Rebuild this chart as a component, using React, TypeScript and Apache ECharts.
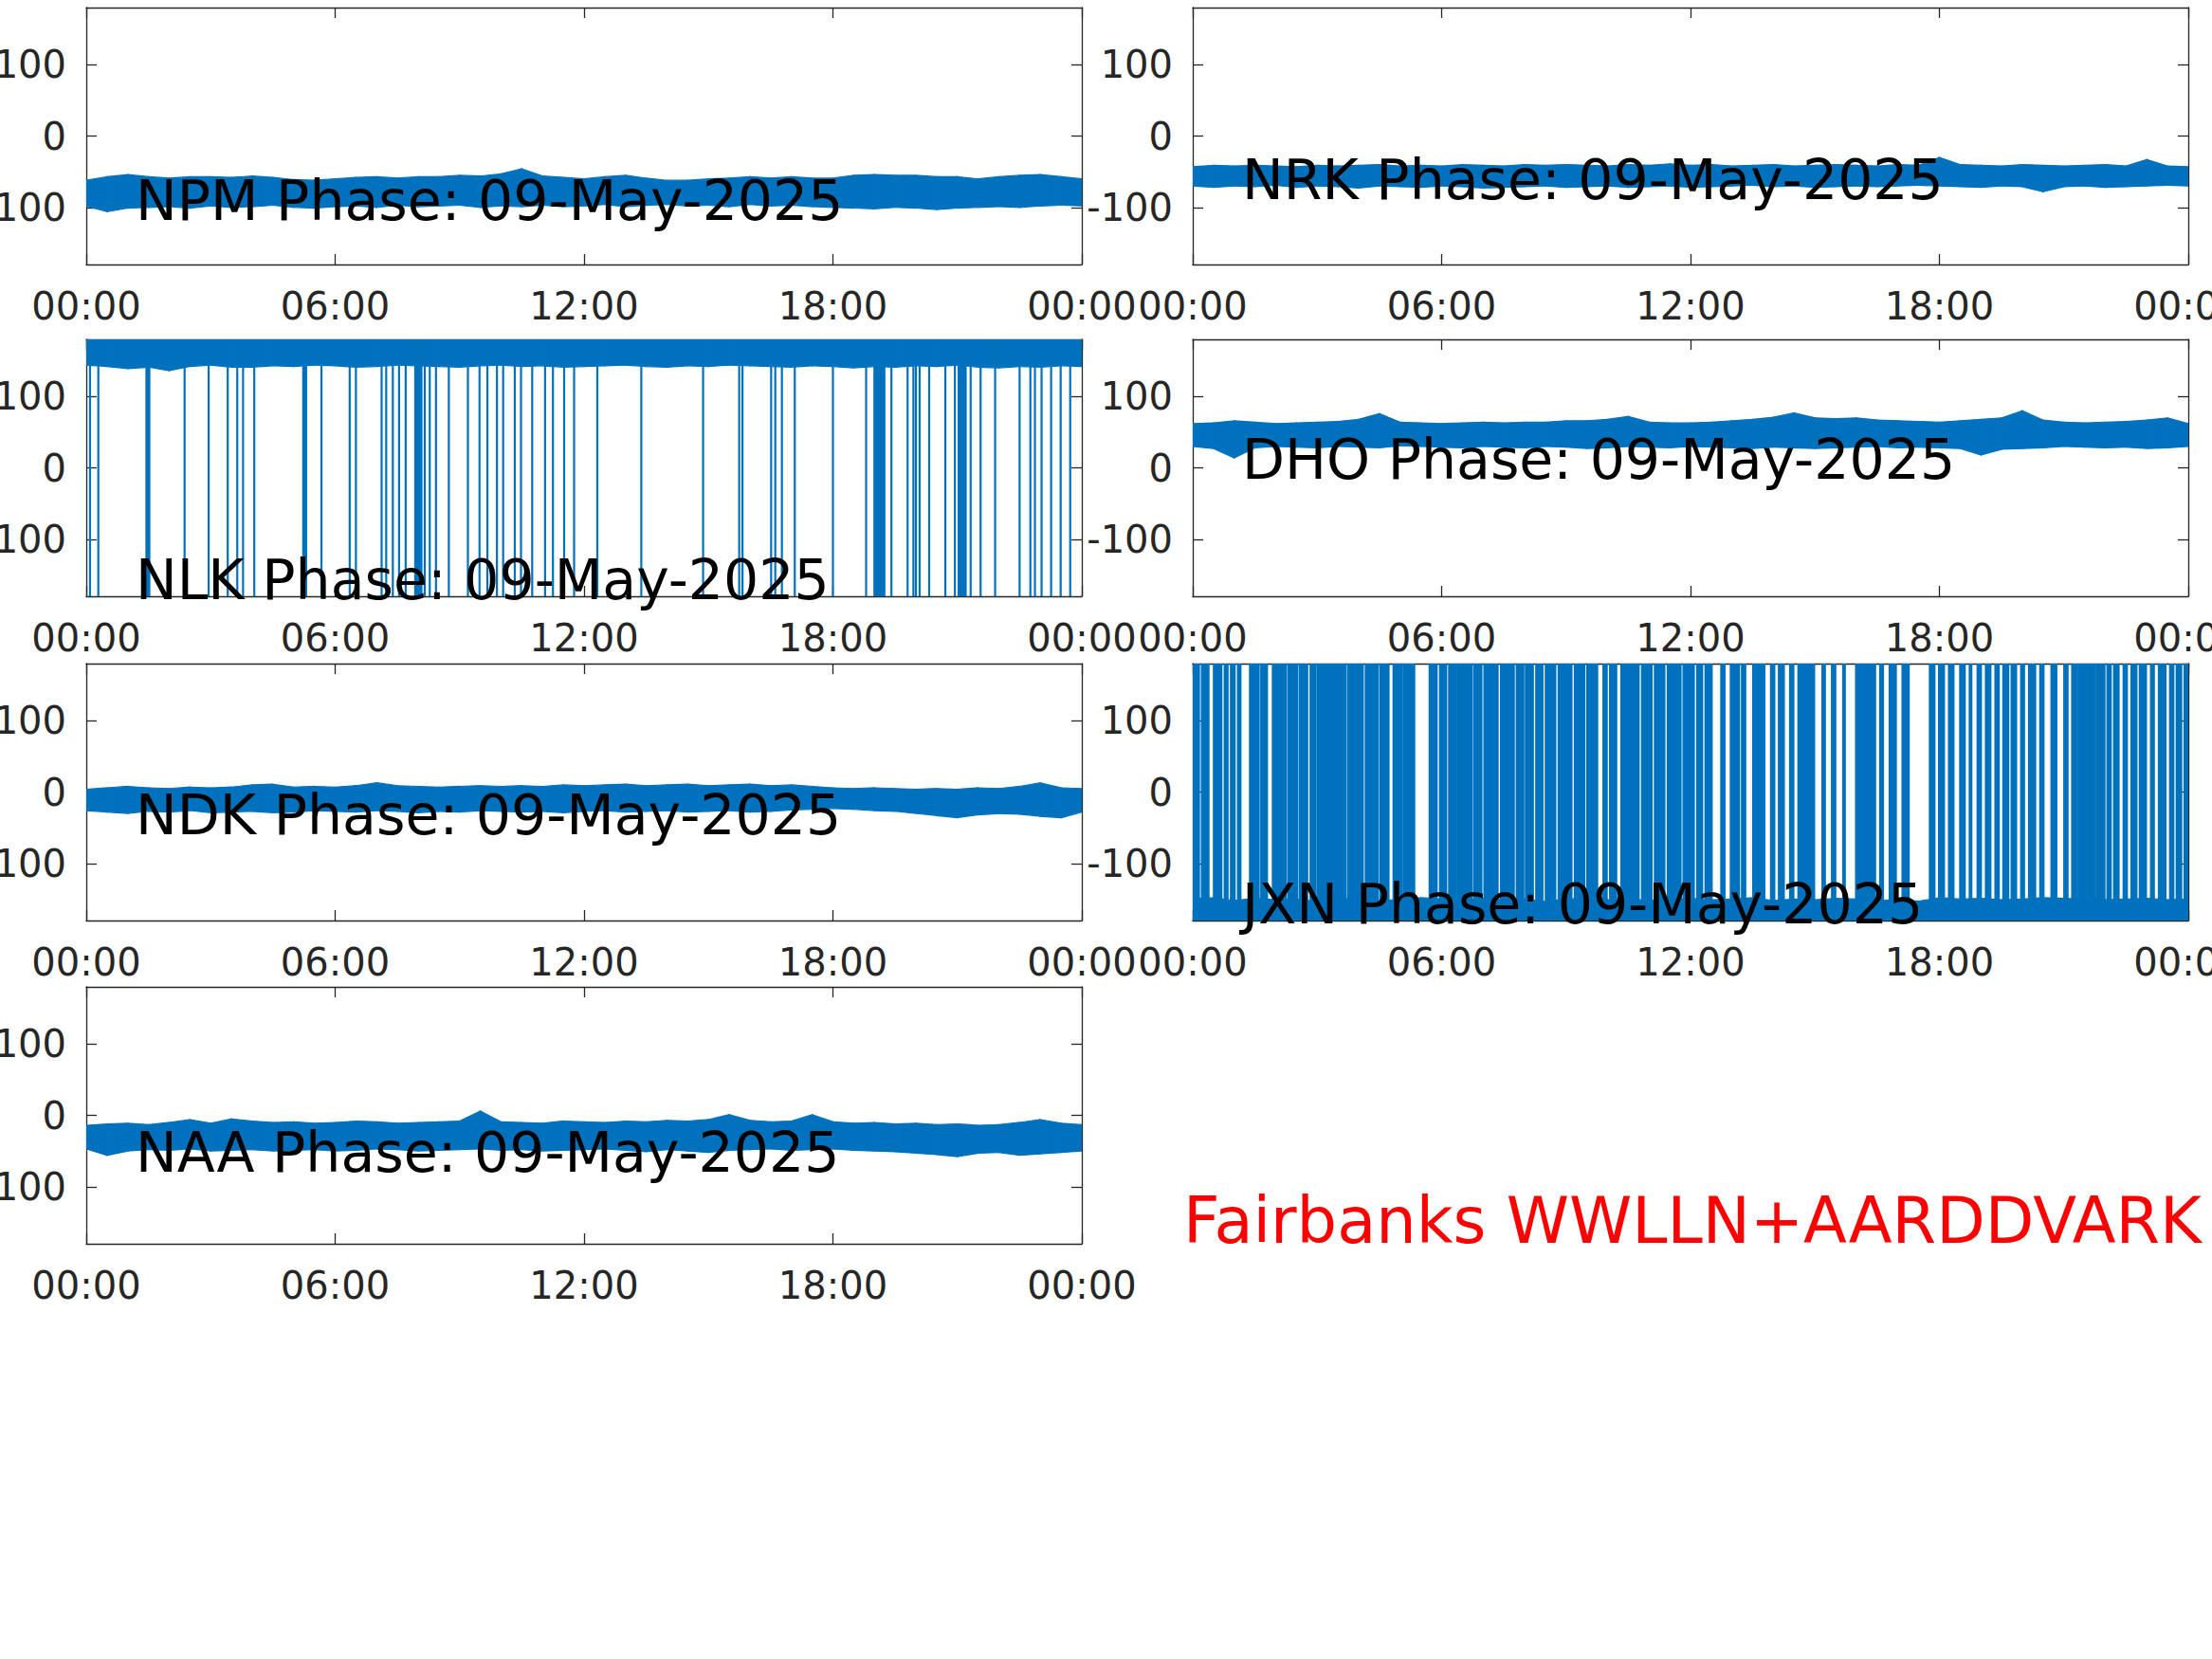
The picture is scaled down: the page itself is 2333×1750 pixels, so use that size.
import React, { useEffect, useRef } from 'react';
import * as echarts from 'echarts';

const BLUE = '#0072BD';
const AXIS = '#262626';
const FONT = 'DejaVu Sans';

// time of day in hours (half-hourly samples of the band envelopes)
const HOURS = [0, 0.5, 1, 1.5, 2, 2.5, 3, 3.5, 4, 4.5, 5, 5.5, 6, 6.5, 7, 7.5, 8, 8.5, 9, 9.5, 10, 10.5, 11, 11.5, 12, 12.5, 13, 13.5, 14, 14.5, 15, 15.5, 16, 16.5, 17, 17.5, 18, 18.5, 19, 19.5, 20, 20.5, 21, 21.5, 22, 22.5, 23, 23.5, 24];

const X_TICKS = [0, 6, 12, 18, 24];
const X_TICK_LABELS = ['00:00', '06:00', '12:00', '18:00', '00:00'];
const Y_TICKS = [-100, 0, 100];
const Y_MIN = -180;
const Y_MAX = 180;

const STATIONS = ['NPM', 'NRK', 'NLK', 'DHO', 'NDK', 'JXN', 'NAA'];
const DATE_LABEL = '09-May-2025';
const SITE_LABEL = 'Fairbanks WWLLN+AARDDVARK';

// phase envelopes (degrees)
const NPM_UPPER = [-62, -57, -54, -57, -59, -57, -57, -58, -56, -58, -61, -62, -60, -58, -57, -59, -57, -57, -55, -56, -53, -46, -56, -58, -60, -57, -55, -59, -62, -62, -60, -59, -57, -59, -57, -59, -59, -55, -54, -55, -55, -57, -57, -60, -57, -55, -54, -57, -60];
const NPM_LOWER = [-98, -106, -101, -100, -99, -101, -98, -100, -99, -97, -100, -101, -99, -98, -100, -97, -99, -98, -97, -100, -98, -99, -97, -99, -98, -96, -99, -97, -96, -98, -97, -99, -96, -98, -97, -99, -100, -101, -102, -100, -101, -103, -101, -100, -99, -100, -98, -97, -98];

const NRK_UPPER = [-43, -41, -42, -41, -42, -43, -41, -42, -41, -40, -42, -41, -42, -40, -41, -42, -40, -41, -40, -41, -42, -40, -41, -39, -41, -40, -42, -41, -40, -42, -41, -40, -41, -42, -40, -41, -30, -40, -41, -42, -40, -41, -42, -41, -40, -42, -33, -42, -43];
const NRK_LOWER = [-70, -72, -70, -71, -69, -72, -70, -71, -73, -70, -71, -72, -70, -71, -73, -72, -71, -70, -72, -71, -70, -72, -71, -70, -72, -71, -70, -69, -71, -70, -72, -71, -70, -71, -70, -69, -70, -71, -72, -70, -71, -78, -71, -70, -72, -71, -70, -69, -70];

const NLK_LOWER = [144, 142, 139, 141, 136, 142, 144, 141, 141, 143, 142, 144, 143, 141, 142, 144, 143, 142, 141, 143, 144, 142, 143, 141, 142, 143, 144, 142, 141, 143, 142, 144, 143, 142, 141, 143, 142, 140, 142, 141, 143, 142, 144, 141, 140, 142, 141, 143, 142];
// phase-wrap excursions of NLK (start hour, end hour)
const NLK_WRAPS = [[0.09, 0.09], [0.29, 0.29], [1.45, 1.52], [2.37, 2.37], [2.95, 2.95], [3.41, 3.41], [3.64, 3.64], [3.78, 3.78], [4.05, 4.05], [5.23, 5.3], [5.67, 5.67], [6.35, 6.35], [6.5, 6.5], [7.12, 7.12], [7.23, 7.23], [7.39, 7.39], [7.54, 7.54], [7.7, 7.7], [7.93, 8.08], [8.16, 8.16], [8.28, 8.28], [8.43, 8.43], [8.74, 8.74], [9.2, 9.2], [9.48, 9.48], [9.67, 9.67], [9.9, 9.9], [10.05, 10.05], [10.33, 10.33], [10.48, 10.48], [10.75, 10.75], [11.06, 11.06], [11.25, 11.25], [11.52, 11.52], [11.76, 11.76], [12.32, 12.32], [13.38, 13.38], [14.87, 14.87], [15.74, 15.74], [15.82, 15.82], [16.51, 16.51], [16.61, 16.61], [16.77, 16.77], [17.08, 17.08], [18.0, 18.0], [18.8, 18.8], [19.0, 19.24], [19.41, 19.41], [19.8, 19.8], [19.94, 19.94], [20.0, 20.0], [20.09, 20.09], [20.32, 20.32], [20.71, 20.71], [20.94, 20.94], [21.03, 21.2], [21.32, 21.32], [21.56, 21.56], [21.91, 21.91], [22.5, 22.5], [22.76, 22.76], [22.87, 22.87], [23.03, 23.03], [23.26, 23.26], [23.49, 23.49], [23.72, 23.72]];

const DHO_UPPER = [62, 63, 66, 64, 62, 63, 64, 65, 68, 76, 64, 63, 62, 63, 64, 63, 64, 64, 66, 66, 68, 72, 64, 63, 63, 64, 66, 68, 71, 77, 70, 69, 70, 67, 66, 65, 64, 66, 68, 70, 80, 67, 64, 63, 64, 65, 67, 70, 62];
const DHO_LOWER = [30, 27, 14, 28, 30, 29, 28, 30, 29, 28, 31, 30, 29, 28, 30, 29, 28, 30, 29, 27, 28, 30, 29, 28, 30, 29, 28, 27, 29, 28, 27, 28, 29, 30, 28, 29, 28, 27, 18, 26, 27, 28, 30, 29, 28, 29, 27, 28, 30];

const NDK_UPPER = [4, 6, 8, 6, 5, 7, 6, 7, 10, 11, 7, 8, 7, 9, 13, 9, 8, 7, 8, 9, 8, 9, 8, 10, 9, 10, 11, 9, 10, 11, 9, 10, 11, 9, 10, 8, 6, 5, 6, 5, 4, 5, 4, 6, 5, 8, 13, 6, 5];
const NDK_LOWER = [-26, -28, -30, -27, -28, -26, -29, -28, -27, -29, -28, -26, -27, -28, -26, -27, -29, -27, -28, -26, -27, -28, -27, -29, -27, -26, -28, -27, -26, -28, -27, -26, -28, -27, -25, -24, -23, -24, -26, -27, -30, -33, -36, -32, -30, -31, -34, -36, -28];

const JXN_UPPER = [-150, -148, -152, -149, -151, -150, -153, -149, -150, -152, -151, -148, -150, -152, -149, -151, -150, -153, -150, -149, -151, -150, -152, -150, -149, -151, -150, -148, -152, -150, -151, -149, -150, -152, -151, -153, -148, -150, -149, -151, -150, -148, -149, -150, -151, -150, -149, -151, -150];
// phase-wrap excursions of JXN (start hour, end hour)
const JXN_WRAPS = [[0.01, 0.15], [0.22, 0.38], [0.51, 0.69], [0.77, 0.84], [0.92, 1.01], [1.09, 1.15], [1.38, 1.59], [1.65, 1.79], [1.93, 2.25], [2.31, 2.52], [2.58, 2.76], [2.84, 2.96], [3.01, 3.69], [3.75, 4.1], [4.17, 4.46], [4.52, 4.72], [4.84, 5.03], [5.08, 5.34], [5.71, 5.88], [5.96, 6.11], [6.18, 6.35], [6.39, 6.73], [6.79, 6.96], [7.03, 7.35], [7.43, 7.74], [7.81, 7.97], [8.03, 8.2], [8.28, 8.43], [8.51, 8.74], [8.82, 9.13], [9.21, 9.44], [9.51, 9.75], [9.9, 9.98], [10.06, 10.21], [10.33, 10.75], [10.83, 11.06], [11.14, 11.37], [11.45, 11.76], [11.83, 12.08], [12.16, 12.28], [12.36, 12.51], [12.74, 12.82], [12.97, 13.17], [13.24, 13.32], [13.51, 13.78], [13.94, 14.02], [14.13, 14.25], [14.4, 14.48], [14.6, 14.98], [15.18, 15.24], [15.41, 15.49], [15.68, 15.72], [15.99, 16.45], [16.57, 16.64], [16.8, 16.95], [17.11, 17.26], [17.77, 17.88], [17.99, 18.11], [18.23, 18.34], [18.5, 18.61], [18.73, 18.77], [18.92, 19.0], [19.12, 19.23], [19.35, 19.43], [19.54, 19.66], [19.74, 19.85], [19.97, 20.04], [20.16, 20.31], [20.43, 20.51], [20.7, 20.82], [21.01, 21.09], [21.2, 21.32], [21.36, 21.55], [21.59, 21.75], [21.79, 21.98], [22.05, 22.13], [22.21, 22.32], [22.44, 22.52], [22.63, 22.75], [22.83, 22.98], [23.1, 23.17], [23.29, 23.45], [23.56, 23.64], [23.72, 23.83], [23.91, 23.99]];

const NAA_UPPER = [-14, -12, -11, -13, -10, -6, -11, -5, -8, -10, -9, -11, -10, -8, -9, -11, -10, -9, -8, 6, -9, -10, -11, -8, -9, -10, -8, -9, -7, -8, -6, 1, -7, -9, -8, 1, -9, -11, -10, -12, -11, -13, -12, -14, -13, -10, -6, -11, -13];
const NAA_LOWER = [-47, -56, -50, -48, -49, -47, -50, -49, -48, -50, -49, -48, -50, -49, -47, -48, -50, -49, -48, -47, -49, -48, -50, -49, -48, -47, -49, -51, -48, -50, -52, -49, -48, -47, -49, -48, -47, -49, -50, -51, -53, -55, -58, -53, -52, -56, -54, -52, -50];

type Panel = { upper: number[] | null; lower: number[] | null; wraps: number[][] | null };
const PANELS: Panel[] = [
  { upper: NPM_UPPER, lower: NPM_LOWER, wraps: null },
  { upper: NRK_UPPER, lower: NRK_LOWER, wraps: null },
  { upper: null, lower: NLK_LOWER, wraps: NLK_WRAPS },
  { upper: DHO_UPPER, lower: DHO_LOWER, wraps: null },
  { upper: NDK_UPPER, lower: NDK_LOWER, wraps: null },
  { upper: JXN_UPPER, lower: null, wraps: JXN_WRAPS },
  { upper: NAA_UPPER, lower: NAA_LOWER, wraps: null },
];

// layout (pixels)
const GRID_W = 1050;
const GRID_H = 271;
const GRID_POS = [[91, 8], [1258, 8], [91, 358], [1258, 358], [91, 700], [1258, 700], [91, 1041]];
const LABEL_POS = [[143, 211.5], [1310, 189.5], [143, 612], [1310, 485], [143, 859.5], [1310, 953.5], [143, 1216]];

function buildOption() {
  const grid: any[] = [];
  const xAxis: any[] = [];
  const yAxis: any[] = [];
  const series: any[] = [];
  const graphic: any[] = [];
  const axisLine = { show: true, onZero: false, lineStyle: { color: AXIS, width: 1.3 } };
  const tick = (vals: number[]) => ({ show: true, inside: true, length: 11, customValues: vals, lineStyle: { color: AXIS, width: 1.3 } });

  PANELS.forEach((p, i) => {
    grid.push({ left: GRID_POS[i][0], top: GRID_POS[i][1], width: GRID_W, height: GRID_H, containLabel: false, outerBoundsMode: 'none', show: false });
    xAxis.push({
      type: 'value', gridIndex: i, position: 'bottom', min: 0, max: 24,
      axisLine, axisTick: tick(X_TICKS), splitLine: { show: false },
      axisLabel: {
        show: true, customValues: X_TICKS, margin: 24, fontSize: 40, fontFamily: FONT, color: AXIS,
        formatter: (v: number) => X_TICK_LABELS[X_TICKS.indexOf(v)] ?? '',
      },
    });
    xAxis.push({
      type: 'value', gridIndex: i, position: 'top', min: 0, max: 24,
      axisLine, axisTick: tick(X_TICKS), splitLine: { show: false }, axisLabel: { show: false },
    });
    yAxis.push({
      type: 'value', gridIndex: i, position: 'left', min: Y_MIN, max: Y_MAX,
      axisLine, axisTick: tick(Y_TICKS), splitLine: { show: false },
      axisLabel: { show: true, customValues: Y_TICKS, margin: 21, fontSize: 40, fontFamily: FONT, color: AXIS },
    });
    yAxis.push({
      type: 'value', gridIndex: i, position: 'right', min: Y_MIN, max: Y_MAX,
      axisLine, axisTick: tick(Y_TICKS), splitLine: { show: false }, axisLabel: { show: false },
    });

    const up = p.upper;
    const lo = p.lower;
    const segs: number[][] = [];
    for (let k = 0; k < HOURS.length - 1; k++) {
      segs.push([
        HOURS[k], up ? up[k] : Y_MAX, lo ? lo[k] : Y_MIN,
        HOURS[k + 1], up ? up[k + 1] : Y_MAX, lo ? lo[k + 1] : Y_MIN,
      ]);
    }
    series.push({
      type: 'custom', name: STATIONS[i], xAxisIndex: 2 * i, yAxisIndex: 2 * i, clip: true, silent: true,
      data: segs,
      renderItem: (_params: any, api: any) => {
        const a = api.coord([api.value(0), api.value(1)]);
        const b = api.coord([api.value(3), api.value(4)]);
        const c = api.coord([api.value(3), api.value(5)]);
        const d = api.coord([api.value(0), api.value(2)]);
        return { type: 'polygon', shape: { points: [a, b, c, d] }, style: { fill: BLUE, stroke: BLUE, lineWidth: 1.2 } };
      },
    });
    if (p.wraps) {
      series.push({
        type: 'custom', name: STATIONS[i] + ' wraps', xAxisIndex: 2 * i, yAxisIndex: 2 * i, clip: true, silent: true,
        data: p.wraps,
        renderItem: (_params: any, api: any) => {
          const a = api.coord([api.value(0), Y_MAX]);
          const b = api.coord([api.value(1), Y_MIN]);
          const w = Math.max(b[0] - a[0], 0) + 2.2;
          return { type: 'rect', shape: { x: a[0] - 1.1, y: a[1], width: w, height: b[1] - a[1] }, style: { fill: BLUE } };
        },
      });
    }
    graphic.push({
      type: 'text', x: LABEL_POS[i][0], y: LABEL_POS[i][1], z: 100,
      style: { text: `${STATIONS[i]} Phase: ${DATE_LABEL}`, fontSize: 58.5, fontFamily: FONT, fill: '#000000', align: 'left', verticalAlign: 'middle' },
    });
  });

  graphic.push({
    type: 'text', x: 1248, y: 1288, z: 100,
    style: { text: SITE_LABEL, fontSize: 67, fontFamily: FONT, fill: '#FF0000', align: 'left', verticalAlign: 'middle' },
  });

  return { animation: false, backgroundColor: '#ffffff', grid, xAxis, yAxis, series, graphic };
}

export default function App() {
  const ref = useRef<HTMLDivElement>(null);
  useEffect(() => {
    if (!ref.current) return;
    const chart = echarts.init(ref.current, null, { renderer: 'svg' });
    chart.setOption(buildOption() as any);
    return () => chart.dispose();
  }, []);
  return <div ref={ref} style={{ position: 'absolute', left: 0, top: 0, width: 2333, height: 1750 }} />;
}
